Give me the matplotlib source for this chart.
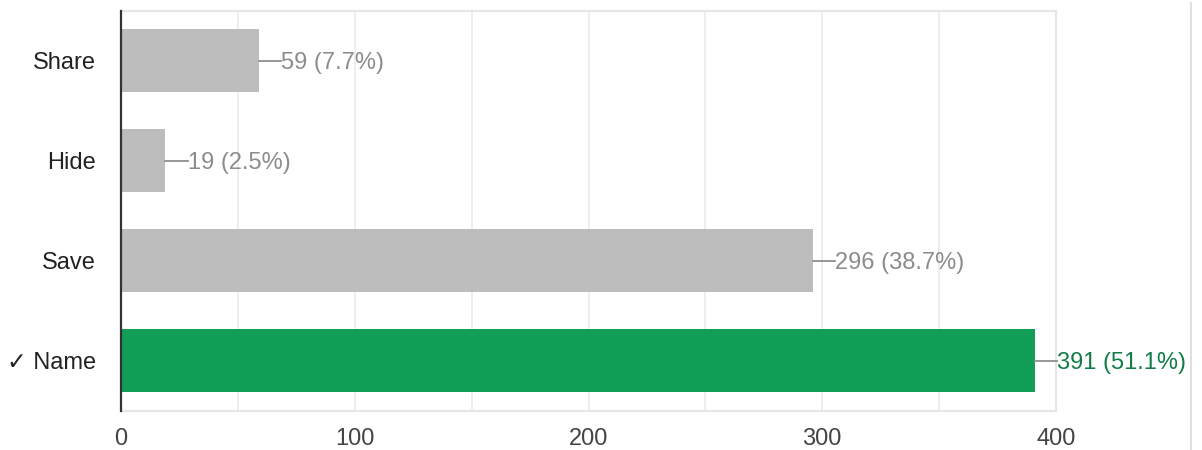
import numpy as np
import matplotlib.pyplot as plt
from matplotlib.lines import Line2D

categories = ['Share', 'Hide', 'Save', '\u2713 Name']
counts = [59, 19, 296, 391]
percents = [7.7, 2.5, 38.7, 51.1]
correct = [False, False, False, True]
xticks = [0, 100, 200, 300, 400]

plt.rcParams['font.family'] = ['Liberation Sans', 'DejaVu Sans']

gray = '#bdbdbd'
green = '#129e56'

fig = plt.figure(figsize=(12.02, 4.5), dpi=100)
ax = fig.add_axes([121 / 1202, 1 - 411 / 450, (1056 - 121) / 1202, (411 - 10.5) / 450])

y = np.arange(len(categories))
colors = [green if c else gray for c in correct]
ax.barh(y, counts, height=0.63, color=colors, zorder=3)

ax.set_xlim(0, 400)
ax.set_ylim(len(categories) - 0.5, -0.5)

# light grid every 50
ax.set_xticks(xticks)
ax.set_xticks(np.arange(50, 400, 100), minor=True)
ax.grid(axis='x', which='both', color='#ebebeb', linewidth=1.2, zorder=0)
ax.tick_params(axis='x', which='both', length=0, pad=12, labelsize=17, labelcolor='#444444')
ax.tick_params(axis='y', length=0, pad=18, labelsize=17, labelcolor='#222222')
ax.set_yticks(y)
ax.set_yticklabels(categories)

for side in ['top', 'right', 'bottom']:
    ax.spines[side].set_color('#e6e6e6')
    ax.spines[side].set_linewidth(1.5)
ax.spines['left'].set_color('#333333')
ax.spines['left'].set_linewidth(1.6)
ax.spines['left'].set_zorder(5)

for i, (n, p, c) in enumerate(zip(counts, percents, correct)):
    tc = '#137d48' if c else '#8c8c8c'
    ax.plot([n, n + 9.5], [i, i], color='#8f8f8f', linewidth=1.3, zorder=4, clip_on=False)
    ax.text(n + 9.5, i, f'{n} ({p}%)', va='center_baseline', ha='left', fontsize=17, color=tc)

# right edge line of the page
fig.add_artist(Line2D([1191 / 1202, 1191 / 1202], [0, 1 - 3 / 450], color='#e0e0e0', linewidth=1.5))

fig.savefig('out.png', dpi=100)
